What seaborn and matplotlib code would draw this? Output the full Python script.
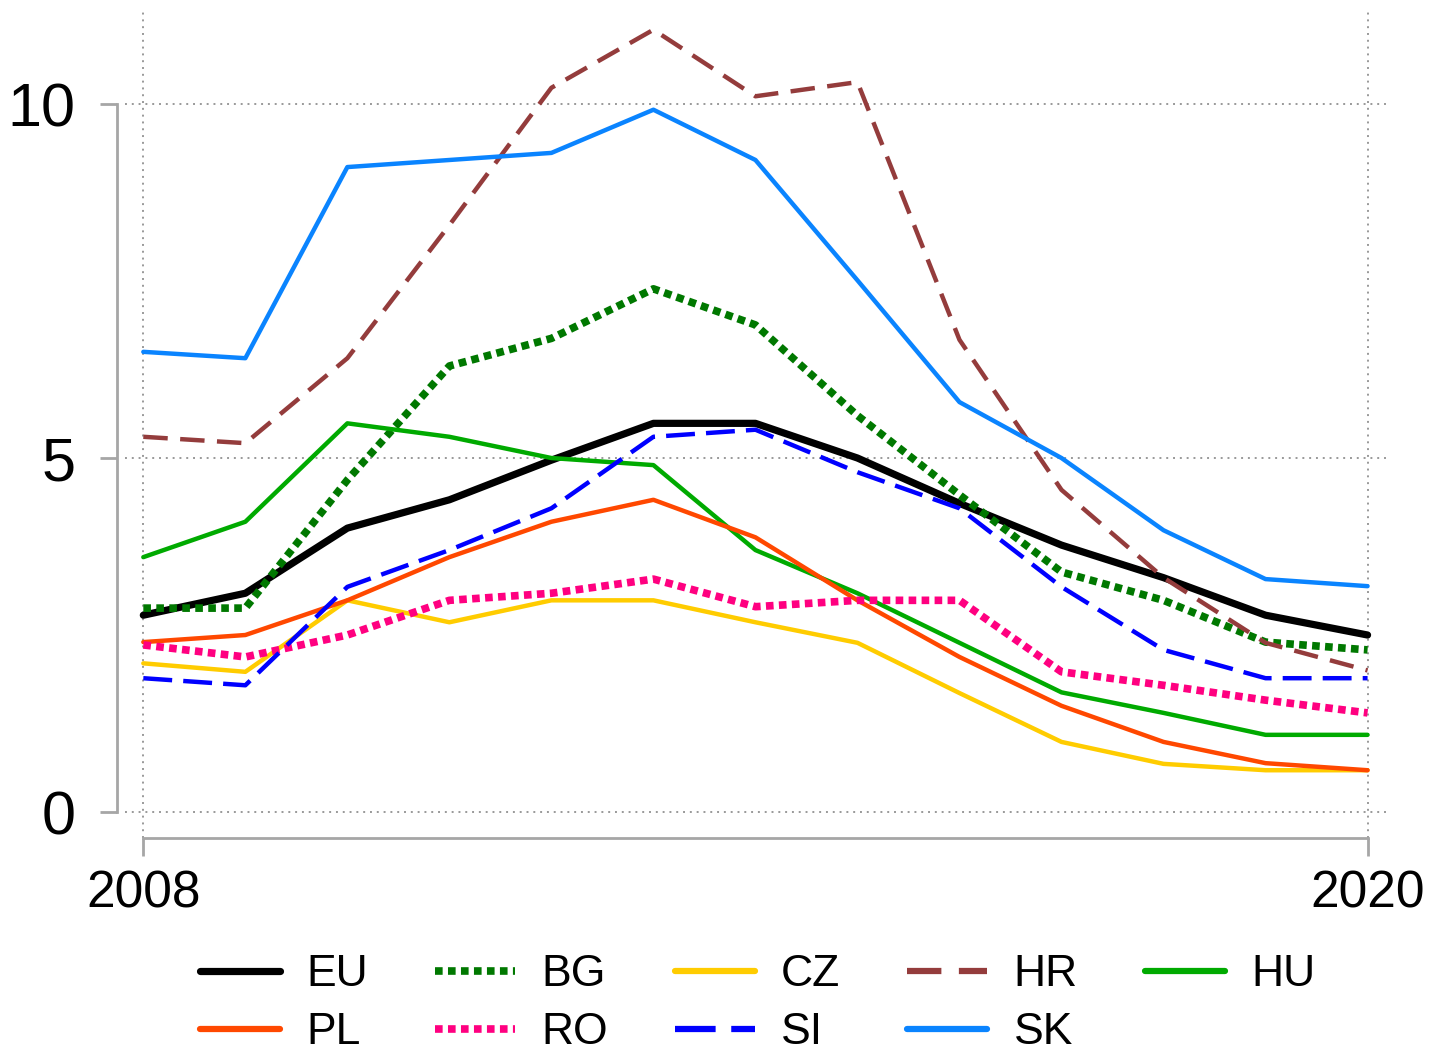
import matplotlib
matplotlib.use('Agg')
import matplotlib.pyplot as plt
import seaborn as sns
import pandas as pd

years = list(range(2008, 2021))

eu = [2.78, 3.09, 4.01, 4.41, 4.97, 5.49, 5.49, 5.00, 4.36, 3.77, 3.31, 2.78, 2.50]
bg = [2.88, 2.88, 4.69, 6.30, 6.69, 7.39, 6.88, 5.60, 4.48, 3.39, 2.99, 2.40, 2.29]
cz = [2.10, 1.98, 2.99, 2.68, 2.99, 2.99, 2.68, 2.39, 1.68, 0.99, 0.68, 0.59, 0.59]
hr = [5.30, 5.21, 6.41, 8.29, 10.23, 11.05, 10.11, 10.31, 6.67, 4.55, 3.31, 2.39, 2.00]
hu = [3.60, 4.10, 5.49, 5.30, 5.00, 4.90, 3.70, 3.09, 2.39, 1.69, 1.40, 1.09, 1.09]
pl = [2.40, 2.50, 2.99, 3.60, 4.10, 4.41, 3.88, 2.99, 2.19, 1.50, 0.99, 0.69, 0.59]
ro = [2.36, 2.19, 2.50, 2.99, 3.09, 3.29, 2.90, 2.99, 2.99, 1.98, 1.79, 1.58, 1.40]
si = [1.89, 1.79, 3.18, 3.70, 4.29, 5.30, 5.40, 4.80, 4.29, 3.18, 2.29, 1.89, 1.89]
sk = [6.50, 6.41, 9.11, 9.21, 9.31, 9.92, 9.21, 7.51, 5.79, 5.00, 3.98, 3.29, 3.19]

labels = ['EU', 'BG', 'CZ', 'HR', 'HU', 'PL', 'RO', 'SI', 'SK']
series = [eu, bg, cz, hr, hu, pl, ro, si, sk]

colors = {'EU': '#000000', 'BG': '#007800', 'CZ': '#ffcc00', 'HR': '#943c3c',
          'HU': '#00aa00', 'PL': '#ff4800', 'RO': '#ff0080', 'SI': '#0000ff',
          'SK': '#0a84ff'}
widths = {'EU': 5.2, 'BG': 5.5, 'CZ': 3.2, 'HR': 3.2, 'HU': 3.2, 'PL': 3.2,
          'RO': 5.5, 'SI': 3.2, 'SK': 3.2}
styles = {'EU': '-', 'BG': (0, (1, 0.7)), 'CZ': '-', 'HR': (0, (5.5, 2.8)),
          'HU': '-', 'PL': '-', 'RO': (0, (1, 0.7)), 'SI': (0, (6.5, 2.5)),
          'SK': '-'}

sns.set_style('white')
plt.rcParams['font.family'] = ['Liberation Sans', 'DejaVu Sans']
plt.rcParams['text.color'] = 'black'

fig = plt.figure(figsize=(14.33, 10.55), dpi=100)
ax = fig.add_axes([0.0872, 0.2057, 0.9828 - 0.0872 - 0.0128, 0.9886 - 0.2057])

lines = {}
for lab, vals in zip(labels, series):
    df = pd.DataFrame({'year': years, 'value': vals})
    sns.lineplot(data=df, x='year', y='value', ax=ax, color=colors[lab],
                 linewidth=widths[lab], linestyle=styles[lab], label=lab)
    lines[lab] = ax.get_lines()[-1]

ax.set_xlim(2007.82, 2020.22)
ax.set_ylim(-0.367, 11.3)
ax.set_xticks([2008, 2020])
ax.set_yticks([0, 5, 10])
ax.set_xlabel('')
ax.set_ylabel('')

ax.grid(True, linestyle=(0, (1, 2.5)), color='#999999', linewidth=1.4)

for s in ['top', 'right']:
    ax.spines[s].set_visible(False)
ax.spines['left'].set_position(('outward', 5.8))
ax.spines['left'].set_bounds(0, 10)
ax.spines['bottom'].set_bounds(2008, 2020)
for s in ['left', 'bottom']:
    ax.spines[s].set_color('#a6a6a6')
    ax.spines[s].set_linewidth(2)

ax.tick_params(axis='y', length=12, width=2, color='#a6a6a6', labelsize=44, pad=18,
               labelcolor='black', left=True)
ax.tick_params(axis='x', length=13, width=2, color='#a6a6a6', labelsize=37, pad=10,
               labelcolor='black', bottom=True)

# column-major fill so rows read EU BG CZ HR HU / PL RO SI SK
order = ['EU', 'PL', 'BG', 'RO', 'CZ', 'SI', 'HR', 'SK', 'HU']
leg = ax.legend([lines[k] for k in order], order, loc='upper center',
                bbox_to_anchor=(0.5, -0.114), ncol=5, frameon=False,
                fontsize=32, handlelength=1.8, handletextpad=0.6, columnspacing=1.5,
                labelspacing=0.38, borderpad=0)
for h in leg.get_lines():
    h.set_linewidth(max(h.get_linewidth(), 4.5))

fig.savefig('out.png', dpi=100)
